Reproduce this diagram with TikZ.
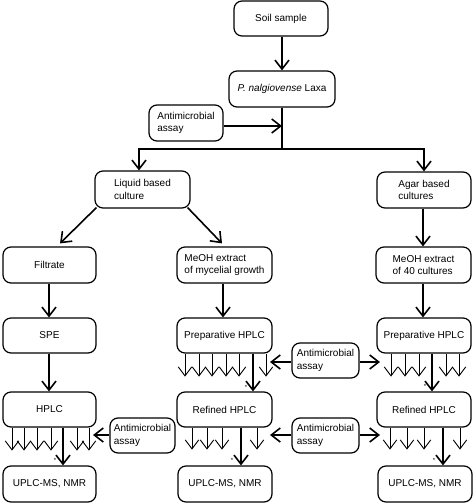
\documentclass[tikz,border=0pt]{standalone}
\usepackage{fontspec}
\setmainfont{Liberation Sans}
\usetikzlibrary{arrows.meta,calc}
\begin{document}
\begin{tikzpicture}[x=1pt,y=-1pt,
  box/.style={draw,rounded corners=8pt,line width=1.2pt,align=left,inner sep=0pt,
    font=\fontsize{10}{12.5}\selectfont},
  main/.style={line width=1.6pt,-{Straight Barb[length=9pt,width=14pt]}},
  plain/.style={line width=1.6pt},
  fan/.style={line width=0.9pt,-{Straight Barb[length=9pt,width=13.5pt]}},
  star/.style={font=\fontsize{6}{6}\selectfont,inner sep=0pt}]
\useasboundingbox (0,0) rectangle (474,503);
% nodes
\node[box,minimum width=94pt,minimum height=35pt] (soil) at (281,18.5) {Soil sample};
\node[box,minimum width=106pt,minimum height=36pt] (pn) at (282,89) {\textit{P. nalgiovense} Laxa};
\node[box,minimum width=74pt,minimum height=36pt] (am1) at (186,123) {Antimicrobial\\assay};
\node[box,minimum width=95pt,minimum height=37pt] (liquid) at (142.5,189.5) {Liquid based\\culture};
\node[box,minimum width=94pt,minimum height=36pt] (agar) at (424,190) {Agar based\\cultures};
\node[box,minimum width=93pt,minimum height=36pt] (filtrate) at (49.5,265) {Filtrate};
\node[box,minimum width=95pt,minimum height=36pt] (meoh1) at (224.5,265) {MeOH extract\\of mycelial growth};
\node[box,minimum width=95pt,minimum height=36pt] (meoh2) at (423.5,265) {MeOH extract\\of 40 cultures};
\node[box,minimum width=93pt,minimum height=35pt] (spe) at (49.5,335.5) {SPE};
\node[box,minimum width=95pt,minimum height=35pt] (prep1) at (224.5,335.5) {Preparative HPLC};
\node[box,minimum width=94pt,minimum height=35pt] (prep2) at (424,335.5) {Preparative HPLC};
\node[box,minimum width=93pt,minimum height=35pt] (hplc) at (49.5,409.5) {HPLC};
\node[box,minimum width=95pt,minimum height=35pt] (ref1) at (224.5,409.5) {Refined HPLC};
\node[box,minimum width=94pt,minimum height=35pt] (ref2) at (424,409.5) {Refined HPLC};
\node[box,minimum width=93pt,minimum height=36pt] (up0) at (49.5,484) {UPLC-MS, NMR};
\node[box,minimum width=94pt,minimum height=36pt] (up1) at (225,484) {UPLC-MS, NMR};
\node[box,minimum width=94pt,minimum height=36pt] (up2) at (425,484) {UPLC-MS, NMR};
\node[box,minimum width=65pt,minimum height=35pt] (am2) at (142.5,435.5) {Antimicrobial\\assay};
\node[box,minimum width=67pt,minimum height=35pt] (am3) at (325.5,360.5) {Antimicrobial\\assay};
\node[box,minimum width=67pt,minimum height=35pt] (am4) at (325.5,435.5) {Antimicrobial\\assay};
% top part
\coordinate (j) at (282,149);
\coordinate (jin) at (282,126);
\coordinate (jl) at (139,149);
\coordinate (jr) at (424,149);
\draw[main] (soil.south -| 282,0) -- (pn.north -| 282,0);
\draw[plain] (pn.south -| j) -- (j);
\draw[main] (am1.east |- jin) -- (jin);
\draw[plain] ([xshift=-0.8pt]jl) -- ([xshift=0.8pt]jr);
\draw[main] (jl) -- (jl |- liquid.north);
\draw[main] (jr) -- (jr |- agar.north);
\draw[main] ([xshift=2pt,yshift=1pt]liquid.south west) -- ([xshift=10.5pt,yshift=3pt]filtrate.north);
\draw[main] ([xshift=-3pt,yshift=1pt]liquid.south east) -- ([xshift=-2.5pt,yshift=3pt]meoh1.north);
\draw[main] (agar.south -| 423,0) -- (meoh2.north -| 423,0);
\draw[main] (filtrate.south -| 49,0) -- (spe.north -| 49,0);
\draw[main] (spe.south -| 49,0) -- (hplc.north -| 49,0);
\draw[main] (meoh1.south -| 223,0) -- (prep1.north -| 223,0);
\draw[main] (meoh2.south -| 423,0) -- (prep2.north -| 423,0);
% thick branch arrows
\draw[main] (prep1.south -| 253,0) -- (ref1.north -| 253,0);
\draw[main] (prep2.south -| 432,0) -- (ref2.north -| 432,0);
\draw[main] (hplc.south -| 63,0) -- (up0.north -| 63,0);
\draw[main] (ref1.south -| 241,0) -- (up1.north -| 241,0);
\draw[main] (ref2.south -| 443,0) -- (up2.north -| 443,0);
% fans
\foreach \x in {12,24,37,51,77,89} \draw[fan] (hplc.south -| \x,0) -- ++(0,23);
\foreach \x in {185,199,212,226,239,266} \draw[fan] (prep1.south -| \x,0) -- ++(0,23);
\foreach \x in {391,405,419,446,459} \draw[fan] (prep2.south -| \x,0) -- ++(0,23);
\foreach \x in {192,207,222,257} \draw[fan] (ref1.south -| \x,0) -- ++(0,22);
\foreach \x in {390,407,424,460} \draw[fan] (ref2.south -| \x,0) -- ++(0,22);
% assay arrows
\coordinate (a2t) at (93,435);
\coordinate (a3l) at (270,362);
\coordinate (a3r) at (380,362);
\coordinate (a4l) at (270,435);
\coordinate (a4r) at (380,435);
\draw[main] (am2.west |- a2t) -- (a2t);
\draw[main] (am3.west |- a3l) -- (a3l);
\draw[main] (am3.east |- a3r) -- (a3r);
\draw[main] (am4.west |- a4l) -- (a4l);
\draw[main] (am4.east |- a4r) -- (a4r);
% asterisks
\node[star] (s1) at (55,460) {*};
\node[star] (s2) at (246,387) {*};
\node[star] (s3) at (425,386) {*};
\node[star] (s4) at (232,460) {*};
\node[star] (s5) at (434,460) {*};
\end{tikzpicture}
\end{document}
